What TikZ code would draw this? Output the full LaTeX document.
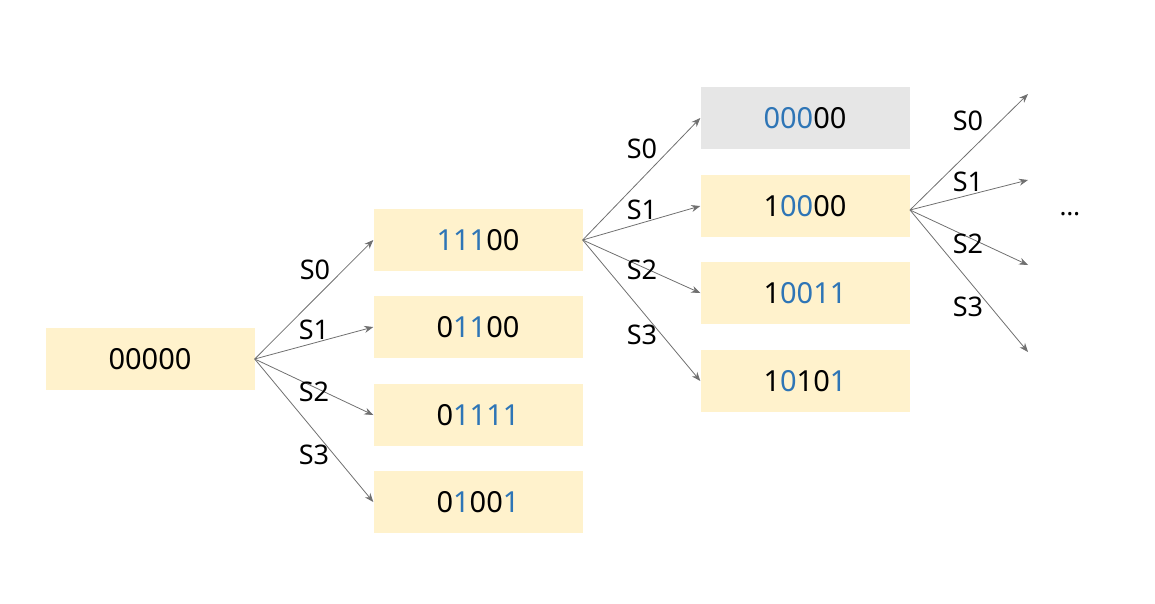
\documentclass[tikz,border=0pt]{standalone}
\usepackage{fontspec}
\setmainfont{Noto Sans}
\usetikzlibrary{arrows.meta}
\definecolor{boxfill}{HTML}{FFF2CC}
\definecolor{greyfill}{HTML}{E6E6E6}
\definecolor{bitblue}{HTML}{2E75B6}
\definecolor{linegrey}{HTML}{707070}
\newcommand{\bb}[1]{\textcolor{bitblue}{#1}}

\begin{document}
\begin{tikzpicture}[x=1pt,y=-1pt]
\useasboundingbox (0,0) rectangle (1155,603);
\begin{scope}[every node/.style={fill=boxfill, minimum width=209pt, minimum height=62pt,
              inner sep=0pt, font=\fontsize{29}{34}\selectfont}]
    \node (R) at (150,359) {00000};
    \node (A) at (478,240) {\bb{111}00};
    \node (B) at (478,327) {0\bb{11}00};
    \node (C) at (478,415) {0\bb{1111}};
    \node (D) at (478,502) {0\bb{1}00\bb{1}};
    \node[fill=greyfill] (E) at (805,118) {\bb{000}00};
    \node (F) at (805,206) {1\bb{00}00};
    \node (G) at (805,293) {1\bb{0011}};
    \node (H) at (805,381) {1\bb{0}10\bb{1}};
\end{scope}

\coordinate (P0) at (1028,94);
\coordinate (P1) at (1028,180);
\coordinate (P2) at (1028,265);
\coordinate (P3) at (1028,352);
\coordinate (Fr) at (910,210);
\node[font=\fontsize{26}{30}\selectfont] (dots) at (1070,214) {\dots};

\begin{scope}[>={Stealth[length=9pt,width=7pt]},
              every path/.style={draw=linegrey, thick},
              every node/.style={font=\fontsize{27}{32}\selectfont}]
    \draw [->] (R.east) -- (A.west);
    \draw [->] (R.east) -- (B.west);
    \draw [->] (R.east) -- (C.west);
    \draw [->] (R.east) -- (D.west);
    \draw [->] (A.east) -- (E.west);
    \draw [->] (A.east) -- (F.west);
    \draw [->] (A.east) -- (G.west);
    \draw [->] (A.east) -- (H.west);
    \draw [->] (Fr) -- (P0);
    \draw [->] (Fr) -- (P1);
    \draw [->] (Fr) -- (P2);
    \draw [->] (Fr) -- (P3);
    \node at (315,270) {S0};
    \node at (314,330) {S1};
    \node at (314,392) {S2};
    \node at (314,455) {S3};
    \node at (642,149) {S0};
    \node at (642,210) {S1};
    \node at (642,270) {S2};
    \node at (642,335) {S3};
    \node at (968,121) {S0};
    \node at (968,182) {S1};
    \node at (968,244) {S2};
    \node at (968,307) {S3};
\end{scope}
\end{tikzpicture}
\end{document}
